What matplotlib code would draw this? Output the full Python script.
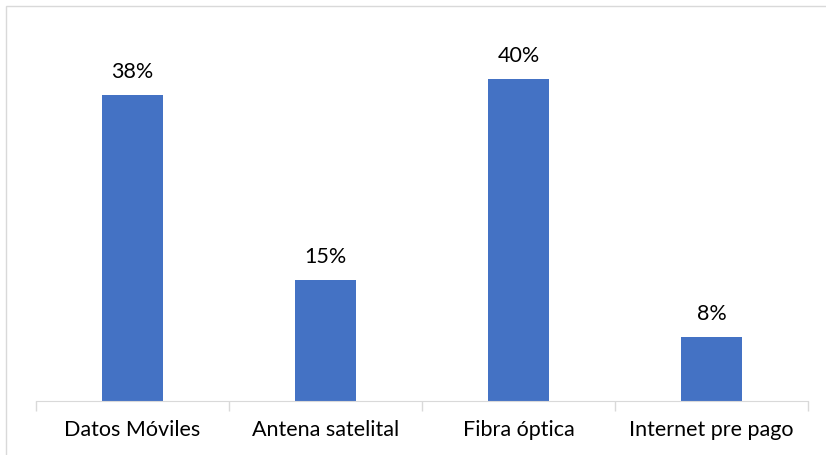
import numpy as np
import matplotlib.pyplot as plt
from matplotlib.patches import Rectangle

categories = ['Datos Móviles', 'Antena satelital', 'Fibra óptica', 'Internet pre pago']
values = [38, 15, 40, 8]

plt.rcParams['font.family'] = ['Lato', 'DejaVu Sans']

fig = plt.figure(figsize=(8.26, 4.56), dpi=100)
ax = fig.add_axes([36/826, 54/456, 772/826, 1 - 54/456 - 40/456])

# light frame around the whole chart
fig.patches.append(Rectangle((6/826, -0.01), 1.0, 1 - 7/456 + 0.01, transform=fig.transFigure,
                             fill=False, edgecolor='#D9D9D9', linewidth=1.0))

x = np.arange(len(categories))
bars = ax.bar(x, values, width=0.316, color='#4472C4')
for xi, v in zip(x, values):
    ax.annotate('{}%'.format(v), (xi, v), xytext=(0, 10), textcoords='offset points',
                ha='center', va='bottom', fontsize=15.5, color='#000000')

ax.set_xlim(-0.5, len(categories) - 0.5)
ax.set_ylim(0, 45)
ax.set_yticks([])
ax.set_xticks(x)
ax.set_xticklabels(categories, fontsize=15.5)
ax.set_xticks(np.arange(len(categories) + 1) - 0.5, minor=True)
ax.tick_params(axis='x', which='major', length=0, pad=13)
ax.tick_params(axis='x', which='minor', length=7, color='#D9D9D9', width=1)
for s in ['top', 'right', 'left']:
    ax.spines[s].set_visible(False)
ax.spines['bottom'].set_color('#D9D9D9')

fig.savefig('out.png', dpi=100)
